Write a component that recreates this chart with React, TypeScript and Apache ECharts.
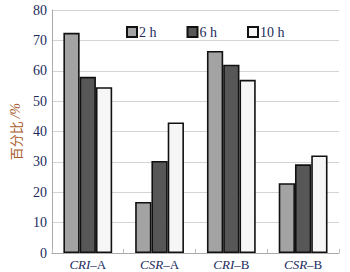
import React, { useEffect, useRef } from "react";
import * as echarts from "echarts";

const categories = ["CRI–A", "CSR–A", "CRI–B", "CSR–B"];
const seriesNames = ["2 h", "6 h", "10 h"];
const values2h = [72.5, 16.8, 66.5, 23];
const values6h = [58, 30.3, 62, 29.2];
const values10h = [54.6, 43, 57, 32.1];
const colors = ["#a3a3a3", "#575757", "#f6f6f6"];

const serif = "Liberation Serif";
const navy = "#1c2b5e";

export default function App() {
  const ref = useRef<HTMLDivElement>(null);
  useEffect(() => {
    const chart = echarts.init(ref.current!, null, { renderer: "svg" });
    const data = [values2h, values6h, values10h];
    chart.setOption({
      animation: false,
      backgroundColor: "#ffffff",
      grid: { left: 50, right: 11, top: 10, bottom: 19 },
      legend: {
        left: 121,
        top: 20,
        itemWidth: 10,
        itemHeight: 10,
        itemGap: 30,
        icon: "rect",
        textStyle: { fontFamily: serif, fontSize: 14, color: navy, padding: [0, 0, 0, -3] },
        data: seriesNames,
      },
      xAxis: {
        type: "category",
        data: categories,
        axisLine: { lineStyle: { color: "#aaaaaa" } },
        axisTick: { show: true, inside: true, length: 4, lineStyle: { color: "#bbbbbb" } },
        axisLabel: {
          interval: 0,
          margin: 5,
          formatter: (v: string) => {
            const [a, b] = v.split("–");
            return `{i|${a}}{n|–${b}}`;
          },
          rich: {
            i: { fontFamily: serif, fontSize: 13, fontStyle: "italic", color: navy },
            n: { fontFamily: serif, fontSize: 13, color: navy },
          },
        },
      },
      yAxis: {
        type: "value",
        min: 0,
        max: 80,
        interval: 10,
        name: "{a|百分比 }{b|/%}",
        nameLocation: "middle",
        nameGap: 24,
        nameTextStyle: {
          rich: {
            a: { fontFamily: "Noto Sans CJK SC", fontSize: 13, color: "#a85a2a" },
            b: { fontFamily: serif, fontSize: 14, fontStyle: "italic", color: "#a85a2a" },
          },
        },
        axisLine: { show: true, lineStyle: { color: "#aaaaaa" } },
        axisTick: { show: false },
        splitLine: { lineStyle: { color: "#d4d4d4" } },
        axisLabel: { margin: 5, fontFamily: serif, fontSize: 14, color: navy },
      },
      series: seriesNames.map((name, i) => ({
        name,
        type: "bar",
        data: data[i],
        barGap: "0%",
        barCategoryGap: "32%",
        itemStyle: { color: colors[i], borderColor: "#111111", borderWidth: 1.6 },
      })),
    });
    return () => chart.dispose();
  }, []);
  return <div ref={ref} style={{ width: 350, height: 272, position: "absolute", left: 0, top: 0 }} />;
}
